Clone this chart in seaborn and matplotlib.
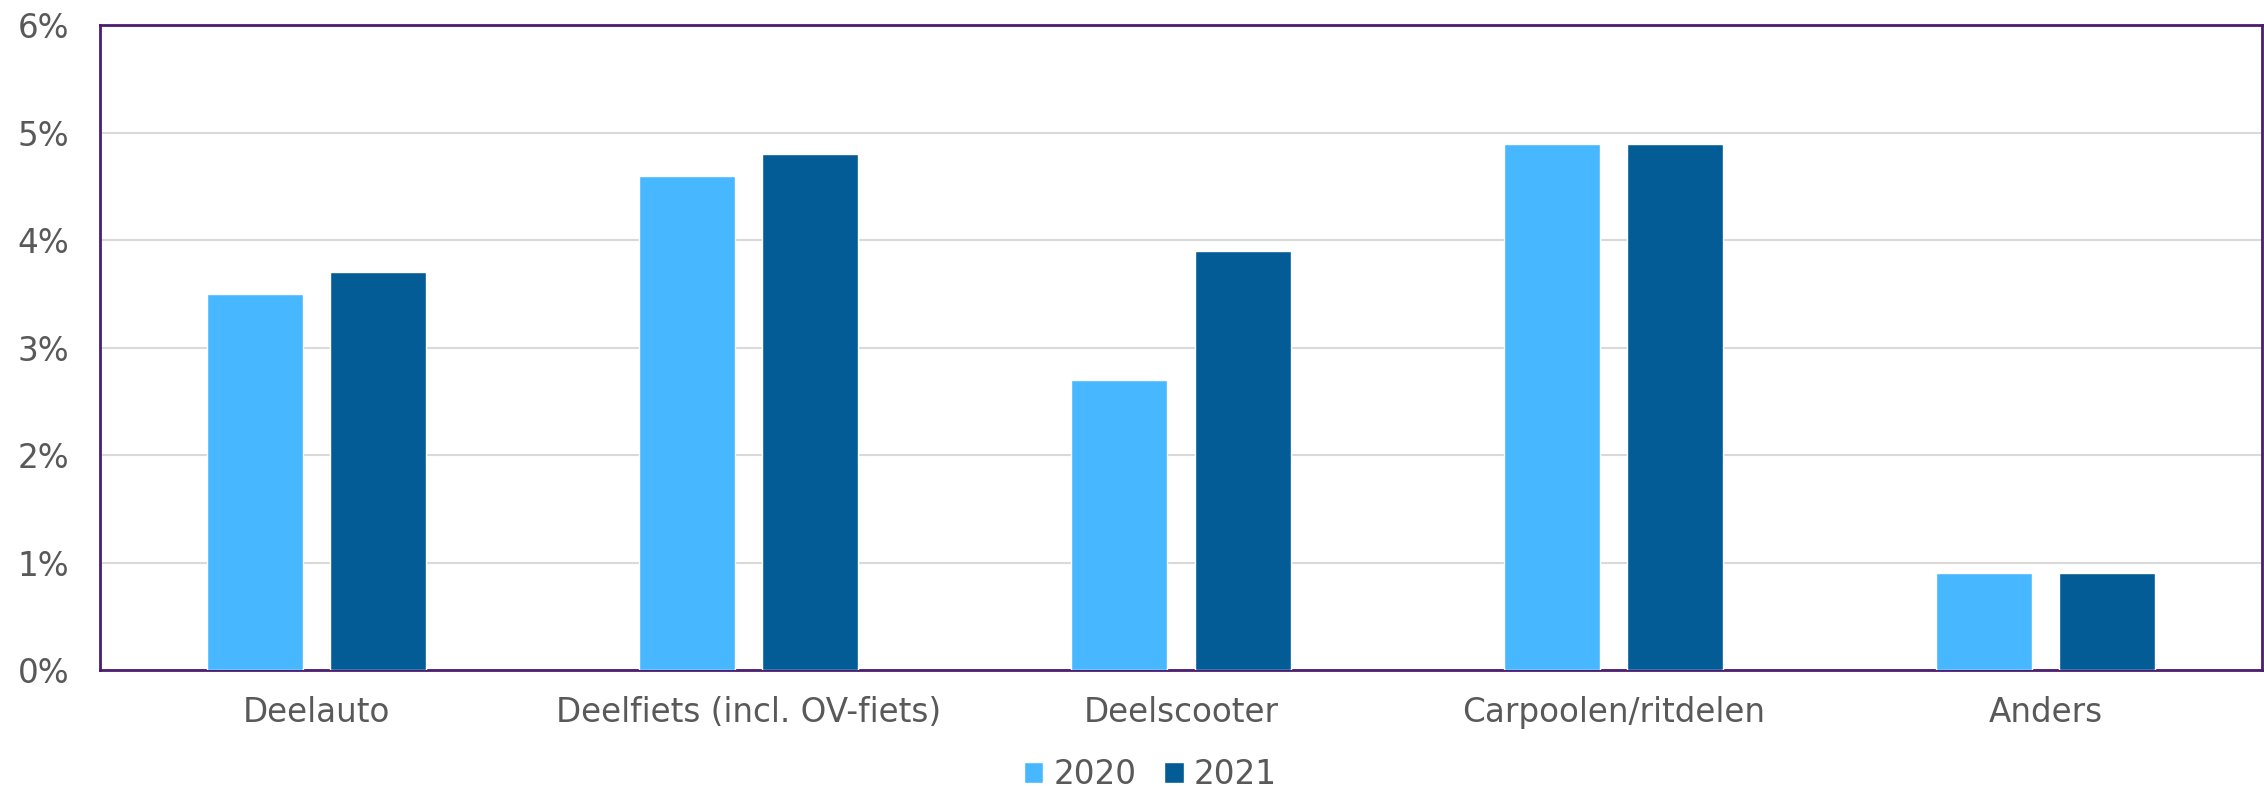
import pandas as pd
import matplotlib.pyplot as plt
import seaborn as sns

# Gegevens (aandeel in %)
categorieen = ["Deelauto", "Deelfiets (incl. OV-fiets)", "Deelscooter", "Carpoolen/ritdelen", "Anders"]
waarden_2020 = [3.5, 4.6, 2.7, 4.9, 0.9]
waarden_2021 = [3.7, 4.8, 3.9, 4.9, 0.9]
jaren = ["2020", "2021"]
kleuren = ["#47B7FF", "#035C96"]

df = pd.DataFrame({
    "Categorie": categorieen * 2,
    "Jaar": [jaren[0]] * len(categorieen) + [jaren[1]] * len(categorieen),
    "Waarde": waarden_2020 + waarden_2021,
})

sns.set_style("white")
plt.rcParams["font.family"] = ["DejaVu Sans"]
tekstkleur = "#595959"
randkleur = "#4B1C6F"

fig, ax = plt.subplots(figsize=(22.64, 7.91), dpi=100)
fig.subplots_adjust(left=0.0442, right=0.9991, bottom=0.153, top=0.968)

sns.barplot(data=df, x="Categorie", y="Waarde", hue="Jaar", palette=kleuren,
            width=0.57, gap=0.22, ax=ax, legend=True, saturation=1, zorder=3)

ax.set_ylim(0, 6)
ax.set_xlim(-0.5, 4.5)
ax.set_yticks(range(0, 7))
ax.set_yticklabels([f"{i}%" for i in range(0, 7)])
ax.set_xlabel("")
ax.set_ylabel("")
ax.grid(axis="y", color="#D9D9D9", linewidth=1.5, zorder=0)
ax.set_axisbelow(True)
for s in ax.spines.values():
    s.set_visible(True)
    s.set_color(randkleur)
    s.set_linewidth(2)
ax.tick_params(axis="both", length=0, labelsize=23.5, colors=tekstkleur)
ax.tick_params(axis="y", pad=22)
ax.tick_params(axis="x", pad=19)

# Legenda onderaan
handles, labels = ax.get_legend_handles_labels()
ax.get_legend().remove()
fig.legend(handles, labels, loc="lower center", bbox_to_anchor=(0.508, -0.037), ncol=2,
           frameon=False, fontsize=23.5, labelcolor=tekstkleur,
           handlelength=0.6, handleheight=0.6, handletextpad=0.3, columnspacing=0.85)

plt.savefig("out.png", dpi=100)
plt.close()
